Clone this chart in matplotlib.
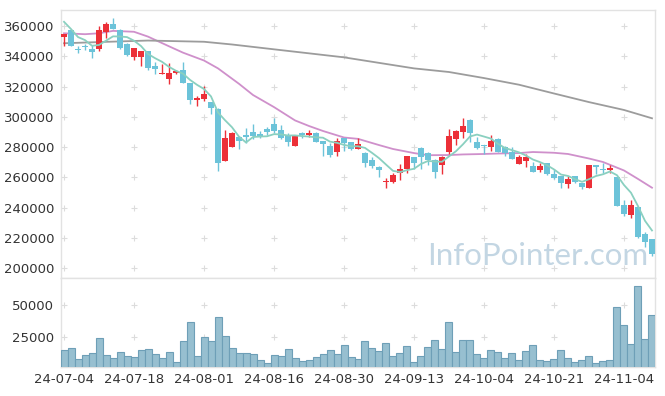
import numpy as np
import matplotlib.pyplot as plt

# 일봉 데이터 (시가/고가/저가/종가, 거래량)
dates = ["24-07-04", "24-07-18", "24-08-01", "24-08-16", "24-08-30",
         "24-09-13", "24-10-04", "24-10-21", "24-11-04"]

opens = [352900, 357400, 344800, 346800, 345000, 345000, 355800, 361100, 357400, 348100,
         339700, 339700, 343500, 333700, 328100, 324800, 328900, 330900, 322300, 311300,
         311700, 309700, 305100, 270900, 280200, 286600, 287900, 289900, 288600, 291900,
         295000, 291200, 287900, 280900, 289000, 287900, 289000, 283800, 280700, 276900,
         286200, 283100, 278700, 276200, 271400, 266800, 256700, 257100, 263000, 265700,
         273200, 279500, 275800, 271400, 267900, 276900, 285300, 290000, 297800, 283100,
         281500, 280200, 285300, 279800, 276500, 269000, 270700, 267400, 264800, 269200,
         262100, 260800, 255700, 260800, 256400, 253100, 268100, 265200, 264800, 260200,
         241700, 235000, 240300, 222300, 219400]
highs = [354700, 357400, 346800, 347900, 347400, 360000, 362800, 365100, 357900, 348500,
         345500, 343500, 343500, 336400, 334900, 335700, 331200, 336200, 322300, 313900,
         320100, 310000, 305500, 291200, 289800, 287000, 292400, 295000, 290600, 293000,
         299000, 294500, 289000, 288000, 289900, 291200, 290200, 284000, 282400, 285700,
         286200, 283500, 285700, 276500, 273200, 267600, 259500, 262600, 268800, 274000,
         273500, 280200, 276500, 271800, 274000, 291700, 291200, 299000, 298300, 286500,
         281500, 288000, 285800, 280700, 280200, 274800, 275200, 270300, 269600, 269500,
         265200, 261000, 260800, 261000, 256500, 268100, 268100, 269200, 268100, 260500,
         245000, 245000, 240500, 224000, 219500]
lows = [347000, 346500, 342000, 343900, 338600, 343500, 351900, 358200, 345000, 340000,
        337500, 333700, 331000, 328100, 328100, 321500, 328000, 322100, 308200, 306900,
        310200, 301600, 263900, 270900, 280200, 278500, 282900, 285300, 285900, 287900,
        289500, 285300, 280900, 280900, 285700, 286400, 283500, 274000, 273600, 274200,
        277500, 278000, 278700, 267000, 266300, 260000, 252700, 256000, 258200, 263000,
        265200, 265200, 268000, 259300, 262100, 275200, 281500, 285700, 283500, 279000,
        275200, 277500, 276500, 274000, 272000, 269000, 267000, 263500, 263300, 261300,
        259000, 252700, 252700, 256500, 252400, 253100, 262000, 262600, 262600, 241000,
        234600, 232900, 220000, 214100, 207900]
closes = [354700, 347000, 343900, 346100, 343000, 357400, 361100, 358200, 345700, 341000,
          345500, 343500, 332000, 331800, 328900, 328900, 330400, 322500, 311300, 312600,
          315000, 306000, 269200, 285900, 289300, 283800, 286800, 287300, 287500, 290100,
          290800, 286100, 283500, 287900, 287900, 289300, 283500, 282200, 274900, 284000,
          282400, 278900, 282200, 269600, 267600, 265000, 257700, 261300, 265500, 274000,
          269600, 273600, 271200, 263700, 273200, 287300, 290800, 294100, 289500, 279500,
          280700, 284000, 276900, 275800, 272300, 273400, 273400, 263700, 267400, 262000,
          259500, 256400, 259100, 256700, 253300, 268100, 267000, 264800, 265900, 241000,
          235700, 241500, 220700, 217200, 209000]
volumes = [14900, 16500, 8000, 11100, 12600, 24200, 11100, 8700, 13400, 10300,
           9500, 14900, 15700, 11800, 8700, 13400, 5600, 21900, 36600, 10300,
           25000, 21900, 40500, 25800, 16500, 12600, 12600, 11800, 7200, 4900,
           11100, 10300, 15700, 8700, 6400, 7200, 9500, 11800, 14900, 11800,
           18800, 9500, 8000, 21900, 16500, 14200, 20300, 10300, 12600, 18000,
           5600, 10300, 17300, 22700, 15700, 36600, 13400, 22700, 22700, 11800,
           8700, 14900, 13400, 8700, 12600, 7200, 14200, 18800, 7200, 6400,
           8000, 14900, 8700, 5600, 7200, 10300, 4900, 6400, 7200, 48200,
           34300, 19600, 64500, 23500, 42000]

# 5일선 계산용 직전 종가
prior_closes = [371000, 370400, 356100, 361800]

# 20일선 / 장기선
ma20_idx = [0, 3, 5, 7, 10, 12, 15, 17, 20, 22, 25, 27, 30, 33, 35, 37, 40, 42, 45, 47,
            50, 52, 55, 57, 60, 62, 65, 67, 70, 72, 75, 77, 80, 82, 84]
ma20_val = [355200, 354600, 355200, 356800, 356200, 353000, 346600, 342400, 337200, 332000,
            321800, 314400, 306400, 297600, 293900, 290600, 286300, 285400, 281300, 278700,
            276000, 274600, 274700, 275100, 275400, 275700, 276000, 276700, 276200, 275400,
            272400, 270100, 264500, 258900, 253100]
malong_idx = [0, 5, 12, 20, 24, 30, 40, 50, 55, 60, 65, 70, 75, 80, 84]
malong_val = [348600, 349400, 350400, 349600, 347800, 344600, 339300, 332000, 329600, 325600,
              321200, 315400, 309700, 304500, 299000]

UP = '#ec3038'
DOWN = '#6cc3d9'

def main():
    n = len(closes)
    x = np.arange(n)
    o = np.array(opens, dtype=float)
    h = np.array(highs, dtype=float)
    l = np.array(lows, dtype=float)
    c = np.array(closes, dtype=float)
    up = c >= o
    colors = np.where(up, UP, DOWN)

    allc = np.concatenate([prior_closes, c])
    ma5 = np.convolve(allc, np.ones(5) / 5, mode='valid')

    fig = plt.figure(figsize=(6.65, 3.96), dpi=100)
    W, H = 665, 396
    ax = fig.add_axes([61 / W, (H - 278) / H, 594 / W, 268 / H])
    axv = fig.add_axes([61 / W, (H - 367) / H, 594 / W, 89 / H], sharex=ax)

    # 캔들
    ax.vlines(x, l, h, colors=colors, linewidth=1.0, zorder=3)
    body = np.maximum(np.abs(c - o), 500)
    ax.bar(x, body, bottom=np.minimum(o, c), width=0.72, color=colors, linewidth=0, zorder=4)

    # 이동평균선
    ax.plot(x, ma5, color='#8ad0c0', lw=1.3, zorder=5)
    ax.plot(ma20_idx, ma20_val, color='#cf90cb', lw=1.3, zorder=2)
    ax.plot(malong_idx, malong_val, color='#9c9c9c', lw=1.3, zorder=2)

    xticks = np.arange(0, n, 10)
    yticks = np.arange(200000, 360001, 20000)
    ax.set_xlim(-0.43, n - 1 + 0.43)
    ax.set_ylim(193400, 370600)
    ax.set_yticks(yticks)
    ax.set_yticklabels([str(v) for v in yticks])
    gx, gy = np.meshgrid(xticks, yticks)
    ax.plot(gx.ravel(), gy.ravel(), '+', color='#dcdcdc', ms=5, mew=0.8, zorder=1)

    ax.text(0.988, 0.028, 'InfoPointer.com', transform=ax.transAxes, ha='right', va='bottom',
            fontsize=22.5, family='Lato', color='#c3d6e3', zorder=6)

    # 거래량
    axv.bar(x, volumes, width=1.0, color='#97bfd0', edgecolor='#6e9fb7', linewidth=0.8, zorder=3)
    axv.set_ylim(2000, 70900)
    vticks = [25000, 50000]
    axv.set_yticks(vticks)
    axv.set_yticklabels([str(v) for v in vticks])
    gx, gy = np.meshgrid(xticks, vticks)
    axv.plot(gx.ravel(), gy.ravel(), '+', color='#dcdcdc', ms=5, mew=0.8, zorder=1)
    axv.set_xticks(xticks)
    axv.set_xticklabels(dates)

    for a in (ax, axv):
        for s in a.spines.values():
            s.set_color('#e2e2e2')
            s.set_linewidth(1)
        a.tick_params(length=0, labelsize=9.5, labelcolor='#333333', pad=5)
    ax.tick_params(labelbottom=False)
    axv.tick_params(axis='x', pad=4)

    fig.savefig('out.png', dpi=100)

if __name__ == "__main__":
    main()
